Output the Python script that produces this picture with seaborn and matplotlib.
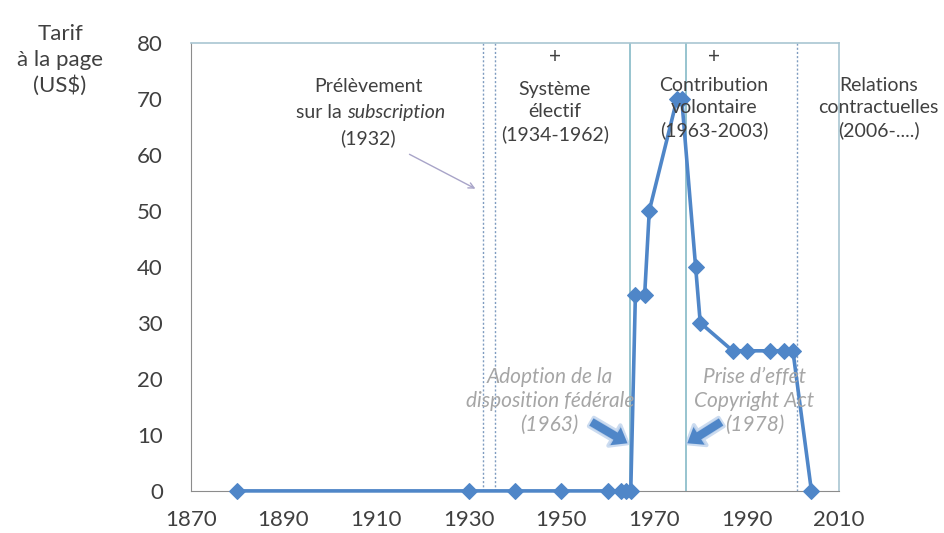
import matplotlib
matplotlib.use('Agg')
import matplotlib.pyplot as plt
import seaborn as sns
import pandas as pd

# Données
annees = [1880, 1930, 1940, 1950, 1960, 1963, 1964, 1965, 1966, 1968, 1969,
          1975, 1976, 1979, 1980, 1987, 1990, 1995, 1998, 2000, 2004]
tarif = [0, 0, 0, 0, 0, 0, 0, 0, 35, 35, 50,
         70, 70, 40, 30, 25, 25, 25, 25, 25, 0]

lignes_pointillees = [1933, 1935.8, 2000.8]
lignes_pleines = [1964.8, 1977]
x_ticks = list(range(1870, 2011, 20))
y_ticks = list(range(0, 81, 10))

df = pd.DataFrame({'Année': annees, 'Tarif': tarif})

sns.set_style('white')
plt.rcParams['font.family'] = ['Lato', 'DejaVu Sans']

gris = '#404040'
bleu = '#4f86c8'

fig = plt.figure(figsize=(9.44, 5.33), dpi=100)
ax = fig.add_axes([0.202, 0.079, 0.687, 0.841])

# Périodes
for x in lignes_pointillees:
    ax.axvline(x, color='#7f9cc0', lw=1, ls=(0, (1.5, 1.5)), zorder=1)
for x in lignes_pleines:
    ax.axvline(x, color='#8fbfcc', lw=1.3, zorder=1)

sns.lineplot(data=df, x='Année', y='Tarif', color=bleu, lw=2.6, marker='D',
             markersize=8, markeredgecolor=bleu, ax=ax, zorder=3, clip_on=False)

ax.set_xlim(1870, 2010)
ax.set_ylim(0, 80)
ax.set_xticks(x_ticks)
ax.set_yticks(y_ticks)
ax.set_xlabel('')
ax.set_ylabel('')
ax.tick_params(axis='both', labelsize=16, colors=gris, direction='out', length=7,
               width=1, color='#8c8c8c')
ax.tick_params(axis='y', pad=13)
ax.tick_params(axis='x', pad=7)
for s in ['left', 'bottom']:
    ax.spines[s].set_color('#8c8c8c')
for s in ['top', 'right']:
    ax.spines[s].set_color('#a9c6d2')
    ax.spines[s].set_linewidth(1.2)

fig.text(60 / 944, 1 - 60 / 533, 'Tarif\nà la page\n(US$)', ha='center', va='center',
         fontsize=16, color=gris, linespacing=1.35)

# Textes des périodes
kw = dict(ha='center', va='center', fontsize=14, color=gris)
ax.text(1908.3, 72.1, 'Prélèvement', **kw)
t1 = ax.text(1908.3 - 10, 67.6, 'sur la ', ha='center', va='center', fontsize=14, color=gris)
ax.annotate('subscription', xy=(1, 0), xycoords=t1, ha='left', va='bottom',
            fontsize=14, color=gris, style='italic')
ax.text(1908.3, 63.0, '(1932)', **kw)
ax.text(1948.6, 77.4, '+', fontsize=15, ha='center', va='center', color=gris)
ax.text(1948.6, 67.6, 'Système\nélectif\n(1934-1962)', linespacing=1.35, **kw)
ax.text(1983.0, 77.4, '+', fontsize=15, ha='center', va='center', color=gris)
ax.text(1983.0, 68.3, 'Contribution\nvolontaire\n(1963-2003)', linespacing=1.35, **kw)
ax.text(2018.5, 68.3, 'Relations\ncontractuelles\n(2006-....)', linespacing=1.35, **kw)

kw_gris = dict(ha='center', va='center', fontsize=15, color='#a6a6a6', style='italic',
               linespacing=1.25)
ax.text(1947.5, 16.0, 'Adoption de la\ndisposition fédérale\n(1963)', **kw_gris)
ax.text(1991.7, 16.0, 'Prise d\u2019effet\nCopyright Act\n(1978)', **kw_gris)

# Flèches
ax.annotate('', xy=(1932, 53.7), xytext=(1916.7, 60.3),
            arrowprops=dict(arrowstyle='->', color='#a8a4c8', lw=1))
for tete, queue in [((1964.3, 8.5), (1956.5, 12.3)), ((1977.2, 8.5), (1984.5, 12.3))]:
    ax.annotate('', xy=tete, xytext=queue,
                arrowprops=dict(arrowstyle='simple,head_width=1.7,head_length=1.1,tail_width=0.7',
                                color='#a9c4e6', alpha=0.6, lw=3, shrinkA=0, shrinkB=0))
    ax.annotate('', xy=tete, xytext=queue,
                arrowprops=dict(arrowstyle='simple,head_width=1.5,head_length=1.0,tail_width=0.6',
                                color=bleu, lw=0, shrinkA=0, shrinkB=0))

fig.savefig('out.png', dpi=100)
plt.close(fig)
